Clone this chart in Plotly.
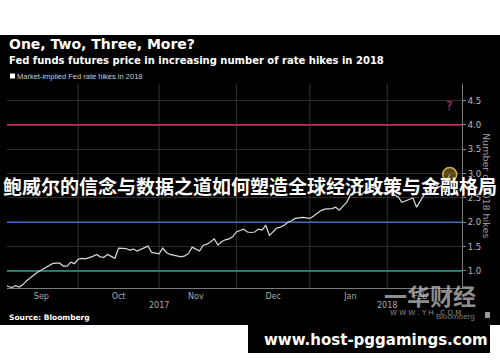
import plotly.graph_objects as go

# ---------------- data ----------------
dates = [
    "2017-09-01", "2017-09-05", "2017-09-06", "2017-09-07", "2017-09-08",
    "2017-09-11", "2017-09-12", "2017-09-13", "2017-09-14", "2017-09-15",
    "2017-09-18", "2017-09-19", "2017-09-20", "2017-09-21", "2017-09-22",
    "2017-09-25", "2017-09-26", "2017-09-27", "2017-09-28", "2017-09-29",
    "2017-10-02", "2017-10-03", "2017-10-04", "2017-10-05", "2017-10-06",
    "2017-10-09", "2017-10-10", "2017-10-11", "2017-10-12", "2017-10-13",
    "2017-10-16", "2017-10-17", "2017-10-18", "2017-10-19", "2017-10-20",
    "2017-10-23", "2017-10-24", "2017-10-25", "2017-10-26", "2017-10-27",
    "2017-10-30", "2017-10-31", "2017-11-01", "2017-11-02", "2017-11-03",
    "2017-11-06", "2017-11-07", "2017-11-08", "2017-11-09", "2017-11-10",
    "2017-11-13", "2017-11-14", "2017-11-15", "2017-11-16", "2017-11-17",
    "2017-11-20", "2017-11-21", "2017-11-22", "2017-11-24", "2017-11-27",
    "2017-11-28", "2017-11-29", "2017-11-30", "2017-12-01", "2017-12-04",
    "2017-12-05", "2017-12-06", "2017-12-07", "2017-12-08", "2017-12-11",
    "2017-12-12", "2017-12-13", "2017-12-14", "2017-12-15", "2017-12-18",
    "2017-12-19", "2017-12-20", "2017-12-21", "2017-12-22", "2017-12-26",
    "2017-12-27", "2017-12-28", "2017-12-29", "2018-01-02", "2018-01-03",
    "2018-01-04", "2018-01-05", "2018-01-08", "2018-01-09", "2018-01-10",
    "2018-01-11", "2018-01-12", "2018-01-16", "2018-01-17", "2018-01-18",
    "2018-01-19", "2018-01-22", "2018-01-23", "2018-01-24", "2018-01-25",
    "2018-01-26", "2018-01-29", "2018-01-30", "2018-01-31", "2018-02-01",
    "2018-02-02", "2018-02-05", "2018-02-06", "2018-02-07", "2018-02-08",
    "2018-02-09", "2018-02-12", "2018-02-13", "2018-02-14", "2018-02-15",
    "2018-02-16", "2018-02-20", "2018-02-21", "2018-02-22", "2018-02-23",
    "2018-02-26", "2018-02-27",
]
hikes = [
    0.72, 0.68, 0.66, 0.70, 0.67,
    0.72, 0.80, 0.86, 0.93, 0.98,
    1.02, 1.06, 1.10, 1.15, 1.16,
    1.16, 1.10, 1.10, 1.18, 1.15,
    1.24, 1.26, 1.25, 1.27, 1.30,
    1.34, 1.29, 1.28, 1.34, 1.30,
    1.26, 1.47, 1.47, 1.46, 1.43,
    1.45, 1.41, 1.44, 1.48, 1.51,
    1.38, 1.36, 1.35, 1.47, 1.38,
    1.34, 1.32, 1.30, 1.29, 1.31,
    1.36, 1.49, 1.45, 1.41, 1.53,
    1.55, 1.60, 1.66, 1.53, 1.60,
    1.64, 1.66, 1.70, 1.80, 1.83,
    1.86, 1.80, 1.79, 1.80, 1.86,
    1.84, 1.94, 1.73, 1.80, 1.88,
    1.90, 1.94, 2.00, 2.03, 2.08,
    2.09, 2.10, 2.09, 2.08, 2.13,
    2.19, 2.24, 2.27, 2.27, 2.28,
    2.31, 2.25, 2.33, 2.41, 2.56,
    2.60, 2.62, 2.56, 2.64, 2.70,
    2.72, 2.68, 2.62, 2.60, 2.62,
    2.66, 2.56, 2.52, 2.41, 2.44,
    2.46, 2.50, 2.31, 2.45, 2.56,
    2.62, 2.70, 2.78, 2.72, 2.76,
    2.82, 2.98,
]

month_label_dates = ["2017-09-18", "2017-10-17", "2017-11-15", "2017-12-15", "2018-01-18", "2018-02-14"]
month_labels = ["Sep", "Oct", "Nov", "Dec", "Jan", "Feb"]
month_starts = ["2017-10-02", "2017-11-01", "2017-12-01", "2018-01-02", "2018-02-01"]
year_label_dates = ["2017-11-01", "2018-02-01"]
year_labels = ["2017", "2018"]
y_ticks = [1.0, 1.5, 2.0, 2.5, 3.0, 3.5, 4.0, 4.5]
ref_levels = [1.0, 2.0, 4.0]
ref_colors = ["#2a9d90", "#3f6fbf", "#c42a5e"]
holidays = ["2017-09-04", "2017-11-23", "2017-12-25", "2018-01-01", "2018-01-15", "2018-02-19"]
x_range = ["2017-09-01 16:00", "2018-03-02 08:00"]
y_range = [0.65, 4.84]

W, H = 500, 362
def px(x):
    return x / W
def py(y):
    return 1 - y / H

fig = go.Figure()
# vertical month gridlines
for d in month_starts:
    fig.add_trace(go.Scatter(x=[d, d], y=y_range, mode="lines",
                             line=dict(color="#333333", width=1), showlegend=False, hoverinfo="skip"))
# reference level lines
for lv, c in zip(ref_levels, ref_colors):
    fig.add_trace(go.Scatter(x=x_range, y=[lv, lv], mode="lines",
                             line=dict(color=c, width=1.6), showlegend=False, hoverinfo="skip"))
fig.add_trace(go.Scatter(
    x=dates, y=hikes, mode="lines",
    line=dict(color="#d9d9d9", width=1.2), showlegend=False, hoverinfo="skip",
))
fig.add_trace(go.Scatter(
    x=[dates[-1]], y=[hikes[-1]], mode="markers",
    marker=dict(size=14, color="rgba(160,130,40,0.55)", line=dict(color="#cfae4a", width=1.5)),
    showlegend=False, hoverinfo="skip",
))

shapes = []
# white bands (outside the black chart panel) and bottom black url box
shapes.append(dict(type="rect", xref="paper", yref="paper", x0=0, x1=1, y0=py(35), y1=1.01,
                   fillcolor="white", line=dict(width=0), layer="above"))
shapes.append(dict(type="rect", xref="paper", yref="paper", x0=0, x1=1, y0=-0.01, y1=py(325),
                   fillcolor="white", line=dict(width=0), layer="above"))
shapes.append(dict(type="rect", xref="paper", yref="paper", x0=px(248), x1=px(490), y0=py(353), y1=py(324),
                   fillcolor="black", line=dict(width=0), layer="above"))
# legend square
shapes.append(dict(type="rect", xref="paper", yref="paper", x0=px(10), x1=px(15), y0=py(78.5), y1=py(73.5),
                   fillcolor="white", line=dict(width=0), layer="above"))
# small bloomberg icon
shapes.append(dict(type="rect", xref="paper", yref="paper", x0=px(485), x1=px(490), y0=py(318), y1=py(312),
                   fillcolor="#9a9a9a", line=dict(width=0), layer="above"))

ann = []
def text(x, y, t, size, color="white", family="DejaVu Sans", xanchor="left", **kw):
    ann.append(dict(x=px(x), y=py(y), xref="paper", yref="paper", text=t, showarrow=False,
                    xanchor=xanchor, yanchor="middle", font=dict(size=size, color=color, family=family), **kw))

text(7, 44, "<b>One, Two, Three, More?</b>", 14)
text(7, 60, "<b>Fed funds futures price in increasing number of rate hikes in 2018</b>", 10)
text(15, 76, "Market-implied Fed rate hikes in 2018", 7.5, color="#cccccc", family="Liberation Sans")
text(449, 106, "?", 12, color="#c8336a", xanchor="center")
text(487, 185, "Number of 2018 hikes", 9.5, color="#9a9a9a", xanchor="center", textangle=90)
text(7, 317, "<b>Source: Bloomberg</b>", 7.5)
# watermark
text(430, 295, "<b>一华财经</b>", 23, color="rgba(190,190,190,0.75)", family="Noto Sans CJK SC", xanchor="center")
text(425, 313, "W W W . Y H . C O M", 7, color="rgba(170,170,170,0.85)", xanchor="center")
text(455, 316, "Bloomberg", 8, color="#7a7a7a", xanchor="center", family="Liberation Sans")
# overlay headline
text(250, 185, "<b>鲍威尔的信念与数据之道如何塑造全球经济政策与金融格局</b>", 19,
     family="Noto Sans CJK SC", xanchor="center")
# url box text
text(262, 340, "<b>www.host-pggamings.com</b>", 15)

for d, t in zip(year_label_dates, year_labels):
    ann.append(dict(x=d, y=py(305), xref="x", yref="paper", text=t, showarrow=False,
                    xanchor="center", yanchor="middle", font=dict(size=8, color="#aaaaaa", family="DejaVu Sans")))

fig.update_layout(
    width=W, height=H,
    margin=dict(l=0, r=0, t=0, b=0),
    paper_bgcolor="black", plot_bgcolor="black",
    showlegend=False,
    shapes=shapes, annotations=ann,
    xaxis=dict(
        domain=[px(7), px(462)],
        type="date",
        range=x_range,
        rangebreaks=[dict(bounds=["sat", "mon"]), dict(values=holidays)],
        tickmode="array", tickvals=month_label_dates, ticktext=month_labels,
        ticks="", showgrid=False, zeroline=False,
        showline=True, linecolor="#7a7a7a", linewidth=1,
        tickfont=dict(size=8, color="#aaaaaa", family="DejaVu Sans"),
        fixedrange=True,
    ),
    yaxis=dict(
        domain=[py(288), py(84)],
        side="right",
        range=y_range,
        tickmode="array", tickvals=y_ticks, tickformat=".1f",
        ticks="outside", ticklen=3, tickcolor="#888888",
        showgrid=True, gridcolor="#2c2c2c", gridwidth=1, zeroline=False,
        showline=True, linecolor="#7a7a7a", linewidth=1,
        tickfont=dict(size=8.5, color="#bbbbbb", family="DejaVu Sans"),
        fixedrange=True,
    ),
)

fig.write_html("out.html")
